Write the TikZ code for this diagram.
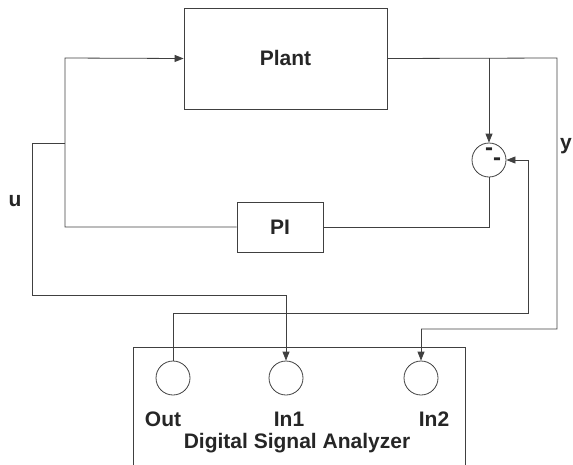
\documentclass[tikz,border=0pt]{standalone}
\usepackage{fontspec}
\setmainfont{Liberation Sans}
\usetikzlibrary{arrows.meta}
\begin{document}
\begin{tikzpicture}[x=1pt,y=-1pt,
  wire/.style={draw=black!75,line width=0.8pt},
  arr/.style={wire,-{Triangle[length=9pt,width=7pt]}},
  blockbox/.style={draw=black!75,line width=0.8pt,inner sep=0pt},
  port/.style={circle,draw=black!75,line width=0.8pt,minimum size=34pt,inner sep=0pt},
  lbl/.style={font=\fontsize{21}{24}\selectfont\bfseries,text=black!85,inner sep=0pt,anchor=base},
  minus/.style={font=\fontsize{24}{26}\selectfont\bfseries,text=black!85,inner sep=0pt}]
\useasboundingbox (0,0) rectangle (573,464);
\begin{scope}
\clip (0,0) rectangle (573,464);
\draw[wire] (133,480) |- (465,347) coordinate (dsatr) -- (465,480);
\end{scope}
\node[blockbox,minimum width=203pt,minimum height=101pt] (plant) at (285.5,58.5) {};
\node[lbl] (plantlbl) at (285.5,65) {Plant};
\node[blockbox,minimum width=86pt,minimum height=50pt] (pi) at (280,227) {};
\node[lbl] (pilbl) at (280,234) {PI};
\node[port,minimum size=34pt] (sum) at (489,160) {};
\node[minus] (m1) at (489,152) {-};
\node[minus] (m2) at (497,162) {-};
\node[port] (out) at (173,378) {};
\node[port] (in1) at (286,378) {};
\node[port] (in2) at (421,378) {};
\node[lbl] (outlbl) at (163,426) {Out};
\node[lbl] (in1lbl) at (289,426) {In1};
\node[lbl] (in2lbl) at (434,426) {In2};
\node[lbl] (dsalbl) at (297,448) {Digital Signal Analyzer};
\node[lbl] (ulbl) at (15,206) {u};
\node[lbl] (ylbl) at (566,149) {y};
% coordinates
\coordinate (lt) at (65,58);
\coordinate (lb) at (65,227);
\coordinate (lj) at (65,143);
\coordinate (br) at (489,58);
\coordinate (yc) at (557,58);
% loop
\draw[arr] (pi.west) -- (lb) -- (lt) -- (plant.west);
\draw[wire] (plant.east) -- (yc) -- (557,329) -- (421,329) coordinate (in2c);
\draw[arr] (in2c) -- (in2.north);
\draw[arr] (br) -- (sum.north);
\draw[wire] (sum.south) |- (pi.east);
\draw[arr] (lj) -- (32,143) -- (32,295) -| (in1.north);
\draw[arr] (out.north) |- (528,313) |- (sum.east);
\end{tikzpicture}
\end{document}
